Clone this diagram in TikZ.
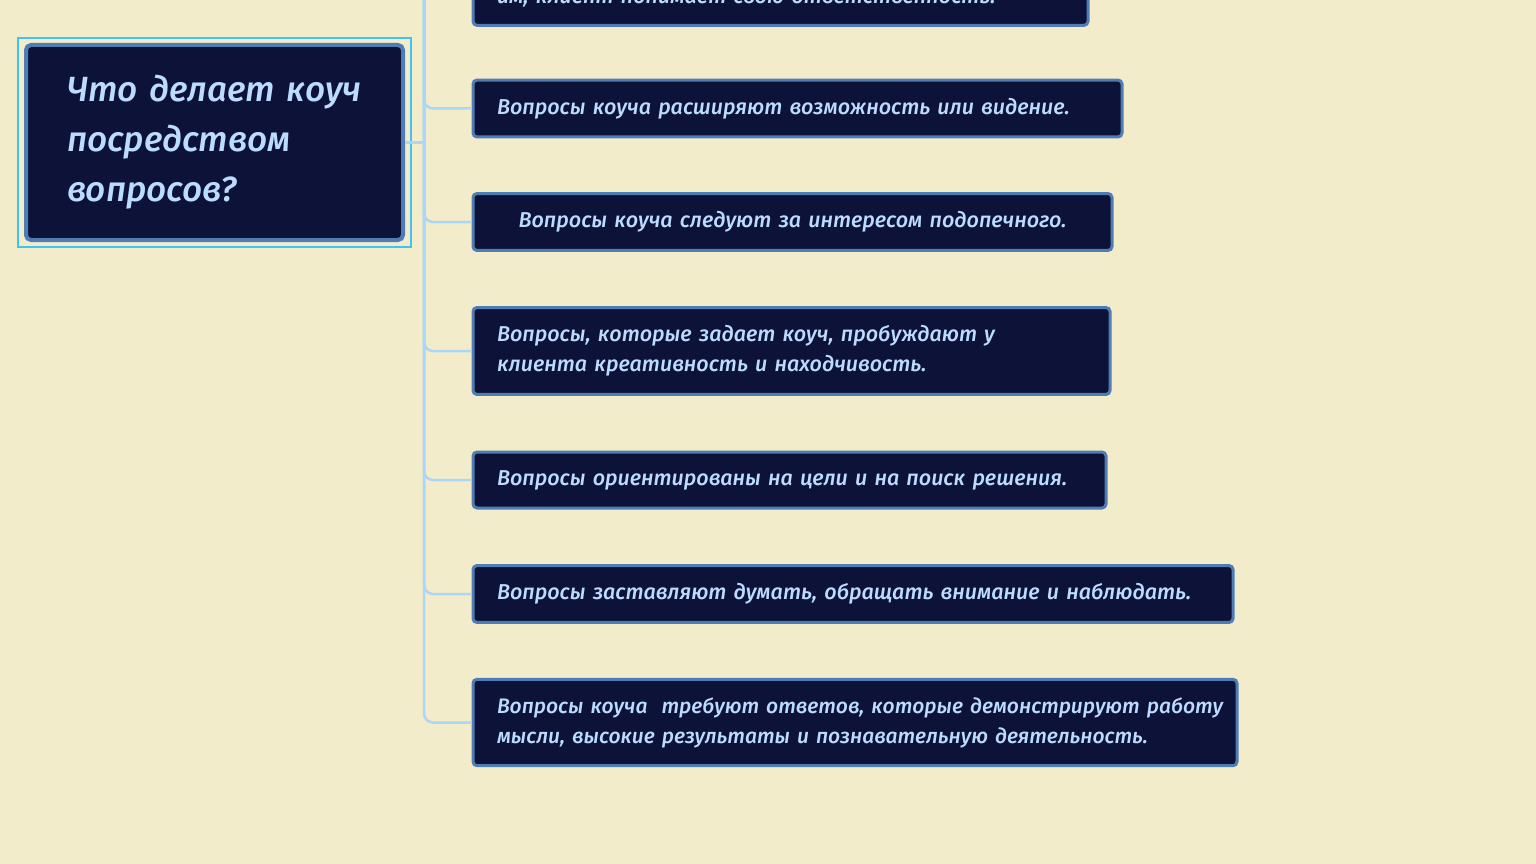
\documentclass[tikz,border=0pt]{standalone}
\usepackage{fontspec}
\setmainfont{Fira Sans}[UprightFont=* Medium, ItalicFont=* Medium Italic]
\definecolor{paper}{HTML}{F3ECCB}
\definecolor{boxfill}{HTML}{0D1338}
\definecolor{boxedge}{HTML}{4F7CB5}
\definecolor{boxtext}{HTML}{BCDCFF}
\definecolor{twig}{HTML}{AAD6F7}
\definecolor{selected}{HTML}{3EC3F2}
\begin{document}
\begin{tikzpicture}[x=1pt,y=-1pt,
	topic/.style={draw=boxedge, line width=3pt, fill=boxfill, rounded corners=4pt,
		text=boxtext, font=\fontsize{21.5}{30}\selectfont\itshape, align=left,
		text width=#1, inner xsep=24pt, inner ysep=18pt, minimum height=56pt, anchor=west},
	root/.style={draw=boxedge, line width=4pt, fill=boxfill, rounded corners=5pt,
		text=boxtext, font=\fontsize{35}{50}\selectfont\itshape, align=left,
		text width=295pt, inner xsep=41pt, minimum width=377pt, minimum height=195pt},
	twigline/.style={draw=twig, line width=2.5pt, rounded corners=9pt}]
	% paper
		\useasboundingbox (0,0) rectangle (1536,864);
		\clip (0,0) rectangle (1536,864);
		\fill[paper] (0,0) rectangle (1536,864);
	% central topic
		\node[root] (root) at (214.5,142.5) {\mbox{Что делает коуч}\\\mbox{посредством}\\\mbox{вопросов?}};
		\draw[selected, line width=2.5pt] ([xshift=-6pt,yshift=-5pt]root.south west) rectangle ([xshift=6pt,yshift=5pt]root.north east);
	% subtopics
		\coordinate (spine) at (424,-80);
		\node[topic=567pt] (resp) at (471.5,-20) {\strut\\им, клиент понимает свою ответственность.};
		\node[topic=601pt] (vision) at (471.5,108.5) {Вопросы коуча расширяют возможность или видение.};
		\node[topic=591pt, align=center] (interest) at (471.5,222) {Вопросы коуча следуют за интересом подопечного.};
		\node[topic=589pt] (creative) at (471.5,351) {Вопросы, которые задает коуч, пробуждают у\\клиента креативность и находчивость.};
		\node[topic=585pt] (goals) at (471.5,480) {Вопросы ориентированы на цели и на поиск решения.};
		\node[topic=712pt] (think) at (471.5,594) {Вопросы заставляют думать, обращать внимание и наблюдать.};
		\node[topic=716pt, font=\fontsize{21}{30}\selectfont\itshape] (answers) at (471.5,722.5) {\mbox{Вопросы коуча\ \ требуют ответов, которые демонстрируют работу}\\\mbox{мысли, высокие результаты и познавательную деятельность.}};
	% connectors
		\foreach \t in {resp,vision,interest,creative,goals,think,answers}
			\draw[twigline] (spine) |- (\t.west);
		\draw[twigline] (root.east) -- (root.east -| spine);
\end{tikzpicture}
\end{document}
